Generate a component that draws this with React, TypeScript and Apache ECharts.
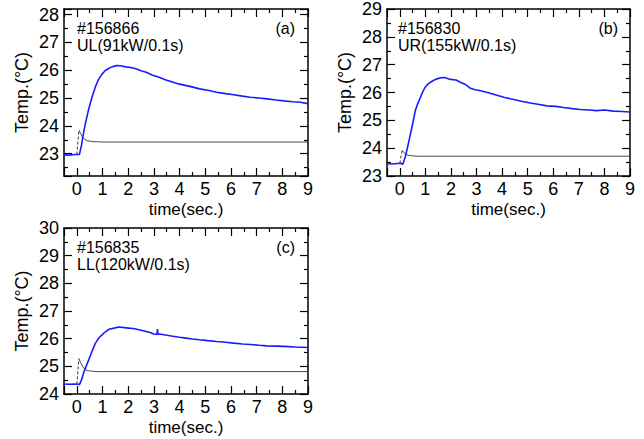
import React, { useEffect, useRef } from "react";
import * as echarts from "echarts";

// ---- Panel (a) #156866 UL ----
const tBlueA = [-0.5, -0.3, -0.1, 0.05, 0.1, 0.18, 0.26, 0.36, 0.46, 0.58, 0.72, 0.85, 0.98, 1.1, 1.25, 1.4, 1.55, 1.7, 1.9, 2.1, 2.3, 2.5, 2.7, 2.95, 3.2, 3.47, 3.75, 4.0, 4.4, 4.78, 5.1, 5.44, 5.8, 6.1, 6.45, 6.75, 7.1, 7.4, 7.75, 8.06, 8.4, 8.7, 9.0];
const vBlueA = [22.96, 22.95, 22.97, 22.97, 22.97, 23.3, 23.75, 24.2, 24.6, 25.0, 25.4, 25.68, 25.86, 25.98, 26.07, 26.13, 26.17, 26.16, 26.12, 26.1, 26.05, 25.98, 25.93, 25.82, 25.75, 25.65, 25.57, 25.5, 25.42, 25.33, 25.28, 25.21, 25.16, 25.12, 25.07, 25.03, 25.0, 24.97, 24.93, 24.9, 24.87, 24.85, 24.8];
const tRiseA = [0, 0.08];
const vRiseA = [22.97, 23.85];
const tDecayA = [0.08, 0.15, 0.22, 0.3, 0.4, 0.52, 0.65, 0.8, 1.0, 9.0];
const vDecayA = [23.85, 23.72, 23.6, 23.52, 23.47, 23.45, 23.43, 23.43, 23.42, 23.42];

// ---- Panel (b) #156830 UR ----
const tBlueB = [-0.5, -0.3, -0.1, 0.05, 0.12, 0.22, 0.32, 0.42, 0.52, 0.61, 0.71, 0.81, 0.9, 1.0, 1.1, 1.2, 1.33, 1.46, 1.6, 1.75, 1.98, 2.2, 2.37, 2.55, 2.76, 2.95, 3.15, 3.5, 3.8, 4.1, 4.45, 4.8, 5.1, 5.4, 5.75, 6.1, 6.4, 6.75, 7.05, 7.4, 7.7, 8.0, 8.35, 8.7, 9.0];
const vBlueB = [23.44, 23.43, 23.45, 23.46, 23.42, 23.7, 24.1, 24.52, 24.95, 25.36, 25.62, 25.83, 26.03, 26.2, 26.3, 26.37, 26.44, 26.49, 26.53, 26.54, 26.47, 26.45, 26.37, 26.3, 26.15, 26.1, 26.06, 25.98, 25.9, 25.82, 25.75, 25.68, 25.62, 25.58, 25.52, 25.5, 25.46, 25.42, 25.39, 25.37, 25.35, 25.37, 25.33, 25.32, 25.3];
const tRiseB = [0, 0.09];
const vRiseB = [23.45, 23.92];
const tDecayB = [0.09, 0.16, 0.24, 0.32, 0.42, 0.55, 0.7, 1.0, 9.0];
const vDecayB = [23.92, 23.84, 23.78, 23.75, 23.73, 23.72, 23.71, 23.71, 23.71];

// ---- Panel (c) #156835 LL ----
const tBlueC = [-0.5, -0.3, -0.1, 0.05, 0.1, 0.18, 0.26, 0.36, 0.46, 0.58, 0.72, 0.85, 0.98, 1.1, 1.25, 1.45, 1.64, 1.85, 2.03, 2.2, 2.42, 2.62, 2.82, 3.0, 3.12, 3.14, 3.16, 3.2, 3.45, 3.73, 4.0, 4.26, 4.5, 4.78, 5.1, 5.44, 5.8, 6.1, 6.45, 6.75, 7.1, 7.4, 7.75, 8.06, 8.5, 9.0];
const vBlueC = [24.36, 24.35, 24.36, 24.35, 24.34, 24.5, 24.75, 25.0, 25.23, 25.52, 25.83, 26.02, 26.14, 26.24, 26.34, 26.38, 26.42, 26.4, 26.38, 26.37, 26.32, 26.28, 26.23, 26.17, 26.15, 26.35, 26.15, 26.17, 26.13, 26.09, 26.05, 26.02, 25.99, 25.96, 25.93, 25.9, 25.87, 25.84, 25.81, 25.79, 25.76, 25.74, 25.73, 25.72, 25.7, 25.68];
const tRiseC = [0, 0.08];
const vRiseC = [24.35, 25.28];
const tDecayC = [0.08, 0.15, 0.22, 0.3, 0.4, 0.52, 0.65, 0.8, 1.0, 9.0];
const vDecayC = [25.28, 25.13, 25.0, 24.9, 24.85, 24.83, 24.82, 24.81, 24.81, 24.81];

// axis ranges
const xRange = [-0.5, 9];
const yRangeA = [22.2, 28.2];
const yRangeB = [23, 29];
const yRangeC = [24, 30];

const xAxisTitle = "time(sec.)";
const yAxisTitle = "Temp.(°C)";
const shotLabels = ["#156866", "#156830", "#156835"];
const heaterLabels = ["UL(91kW/0.1s)", "UR(155kW/0.1s)", "LL(120kW/0.1s)"];
const panelTags = ["(a)", "(b)", "(c)"];

const FONT = "'Liberation Sans', Arial, Helvetica, sans-serif";

const zip = (t: number[], v: number[]) => t.map((x, i) => [x, v[i]]);
const intFmt = (v: number) => (Math.abs(v - Math.round(v)) < 1e-6 ? String(Math.round(v)) : "");

export default function App() {
  const ref = useRef<HTMLDivElement>(null);
  useEffect(() => {
    if (!ref.current) return;
    const chart = echarts.init(ref.current, undefined, { renderer: "svg" });

    const grids = [
      { left: 64, top: 9, width: 244, height: 167 },
      { left: 387, top: 9, width: 243, height: 167 },
      { left: 64, top: 228, width: 244, height: 166 },
    ];
    const yRanges = [yRangeA, yRangeB, yRangeC];

    const lineStyleAxis = { color: "#000", width: 1.5 };
    const xAxes: any[] = [];
    const yAxes: any[] = [];
    grids.forEach((_, g) => {
      const tickCommon = {
        axisTick: { show: true, inside: true, length: 8, lineStyle: { color: "#000", width: 1.2 } },
        minorTick: { show: true, splitNumber: 2, length: 4, lineStyle: { color: "#000", width: 1.2 } },
        splitLine: { show: false },
        minorSplitLine: { show: false },
        axisLine: { show: true, onZero: false, lineStyle: lineStyleAxis },
      };
      xAxes.push({
        type: "value",
        gridIndex: g,
        position: "bottom",
        min: xRange[0],
        max: xRange[1],
        splitNumber: 10,
        axisLabel: { formatter: intFmt, fontFamily: FONT, fontSize: 18, color: "#000", margin: 4, lineHeight: 18, showMinLabel: true, showMaxLabel: true },
        ...tickCommon,
      });
      xAxes.push({
        type: "value",
        gridIndex: g,
        position: "top",
        min: xRange[0],
        max: xRange[1],
        splitNumber: 10,
        axisLabel: { show: false },
        ...tickCommon,
      });
      const yr = yRanges[g];
      yAxes.push({
        type: "value",
        gridIndex: g,
        position: "left",
        min: yr[0],
        max: yr[1],
        splitNumber: 6,
        axisLabel: { formatter: intFmt, fontFamily: FONT, fontSize: 18, color: "#000", margin: 5, showMinLabel: true, showMaxLabel: true },
        ...tickCommon,
      });
      yAxes.push({
        type: "value",
        gridIndex: g,
        position: "right",
        min: yr[0],
        max: yr[1],
        splitNumber: 6,
        axisLabel: { show: false },
        ...tickCommon,
      });
    });

    const panels = [
      { blue: zip(tBlueA, vBlueA), rise: zip(tRiseA, vRiseA), decay: zip(tDecayA, vDecayA) },
      { blue: zip(tBlueB, vBlueB), rise: zip(tRiseB, vRiseB), decay: zip(tDecayB, vDecayB) },
      { blue: zip(tBlueC, vBlueC), rise: zip(tRiseC, vRiseC), decay: zip(tDecayC, vDecayC) },
    ];
    const series: any[] = [];
    panels.forEach((p, g) => {
      const base = { type: "line", xAxisIndex: g * 2, yAxisIndex: g * 2, showSymbol: false, symbol: "none", silent: true };
      series.push({ ...base, data: p.rise, lineStyle: { color: "#222", width: 0.9, type: [3, 2] }, z: 3 });
      series.push({ ...base, data: p.decay, lineStyle: { color: "#333", width: 0.9 }, z: 3 });
      series.push({ ...base, data: p.blue, lineStyle: { color: "#1a1aff", width: 1.6 }, z: 4 });
    });

    const textStyle = (text: string, align: string, size = 16) => ({
      text,
      fill: "#000",
      font: `${size}px ${FONT}`,
      align,
      verticalAlign: "middle",
    });
    const ann = [
      { x: 77, y: 28, rx: 295 },
      { x: 398, y: 28, rx: 618 },
      { x: 77, y: 247, rx: 295 },
    ];
    const graphic: any[] = [];
    ann.forEach((a, i) => {
      graphic.push({ type: "text", x: a.x, y: a.y, style: textStyle(shotLabels[i], "left"), z: 10 });
      graphic.push({ type: "text", x: a.x, y: a.y + 17.5, style: textStyle(heaterLabels[i], "left"), z: 10 });
      graphic.push({ type: "text", x: a.rx, y: a.y, style: textStyle(panelTags[i], "right"), z: 10 });
    });
    grids.forEach((g) => {
      graphic.push({ type: "text", x: g.left + g.width / 2, y: g.top + g.height + 33, style: textStyle(xAxisTitle, "center", 17), z: 10 });
      graphic.push({ type: "text", x: g.left - 42, y: g.top + g.height / 2, rotation: Math.PI / 2, style: textStyle(yAxisTitle, "center", 18), z: 10 });
    });

    chart.setOption({
      animation: false,
      backgroundColor: "#fff",
      grid: grids.map((g) => ({ ...g, show: false, containLabel: false })),
      xAxis: xAxes,
      yAxis: yAxes,
      series,
      graphic,
    });
    return () => chart.dispose();
  }, []);
  return <div ref={ref} style={{ position: "absolute", left: 0, top: 0, width: 644, height: 439 }} />;
}
